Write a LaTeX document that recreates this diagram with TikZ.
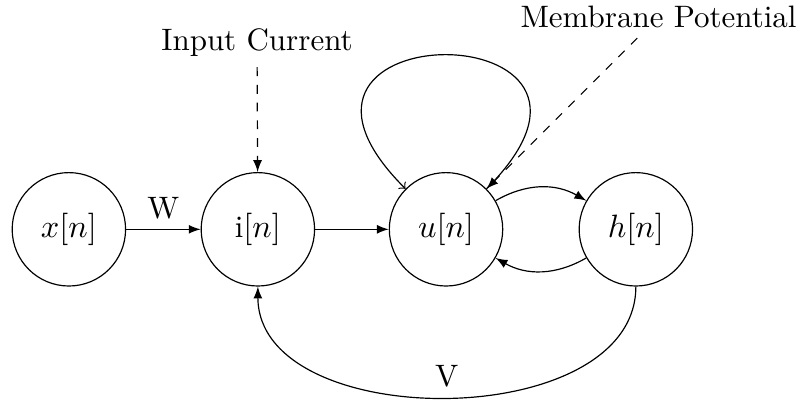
\documentclass[tikz,border=0pt]{standalone}
\usepackage{amsmath}
\usepackage{tikz}
\usetikzlibrary{arrows,positioning,calc}

\tikzset{
  neuron/.style={draw, circle, minimum size=1.35cm},
  link/.style={-latex},
  probe/.style={dashed, -latex}
}

\begin{document}
\begin{tikzpicture}[font=\fontsize{10.5pt}{12.5pt}\selectfont]
  \useasboundingbox (-0.82,-2.06) rectangle (8.74,2.73);
  \node[neuron] (x) at (0,0) {$x[n]$};
  \node[neuron] (i) at (2.25,0) {i$[n]$};
  \node[neuron] (u) at (4.49,0) {$u[n]$};
  \node[neuron] (h) at (6.75,0) {$h[n]$};
  \node (ic) at (2.24,2.22) {Input Current};
  \node (mp) at (7.02,2.53) {Membrane Potential};

  \draw[link] (x) -- node[above] {W} (i);
  \draw[link] (i) -- (u);
  \draw[link] (u) to[bend left=30] (h);
  \draw[link] (h) to[bend left=30] (u);
  \draw[->] (u) to[out=45, in=135, looseness=8] (u);
  \draw[link] (h) to[out=-90, in=-90] node[above] {V} (i);
  \draw[probe] (ic) -- (i);
  \draw[probe] (mp) -- (u);
\end{tikzpicture}
\end{document}
